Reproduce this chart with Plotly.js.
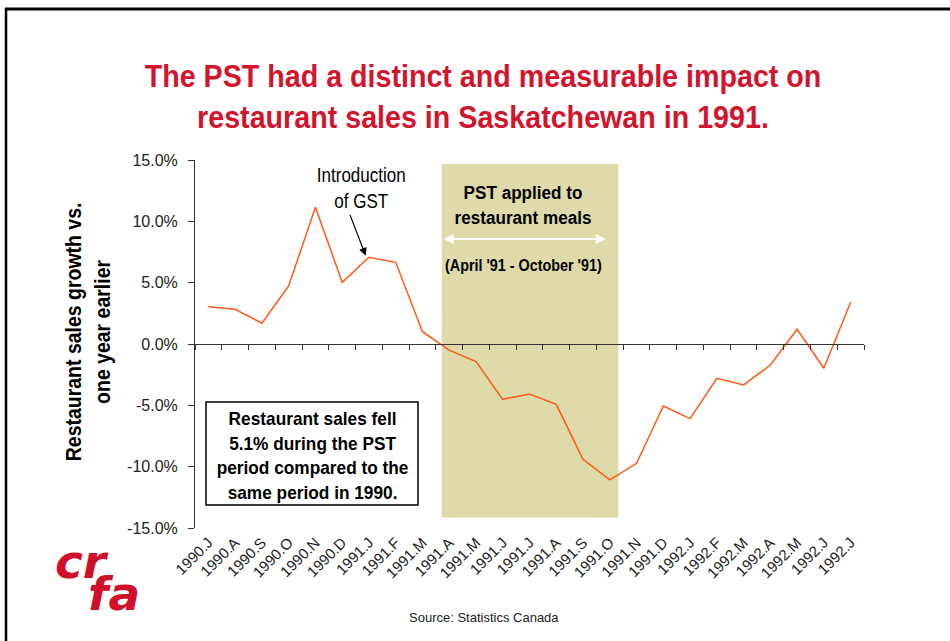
<!DOCTYPE html>
<html>
<head>
<meta charset="utf-8">
<script src="https://cdn.plot.ly/plotly-3.0.1.min.js"></script>
<style>html,body{margin:0;padding:0;background:#fff;}#chart{width:950px;height:641px;}</style>
</head>
<body>
<div id="chart"></div>
<script>
// ---- data ----
var categories = ['1990.J','1990.A','1990.S','1990.O','1990.N','1990.D','1991.J','1991.F','1991.M','1991.A','1991.M','1991.J','1991.J','1991.A','1991.S','1991.O','1991.N','1991.D','1992.J','1992.F','1992.M','1992.A','1992.M','1992.J','1992.J'];
var growthPct = [3.04, 2.83, 1.69, 4.73, 11.14, 5.03, 7.07, 6.66, 1.0, -0.5, -1.44, -4.51, -4.07, -4.92, -9.4, -11.08, -9.73, -5.05, -6.08, -2.80, -3.34, -1.71, 1.19, -1.98, 3.40];
var yTickVals = [-15, -10, -5, 0, 5, 10, 15];
var yTickText = ['-15.0%', '-10.0%', '-5.0%', '0.0%', '5.0%', '10.0%', '15.0%'];

// ---- layout helpers ----
var W = 950, H = 641, ML = 195, MR = 86, MT = 160, MB = 113;
var PW = W - ML - MR, PH = H - MT - MB;
function px(x) { return (x - ML) / PW; }
function py(y) { return (H - MB - y) / PH; }

var ARIAL = 'Liberation Sans, Arial, sans-serif';
var idx = categories.map(function (c, i) { return i; });

var traces = [
  {
    x: idx, y: growthPct, type: 'scatter', mode: 'lines',
    line: { color: '#FF5A14', width: 1.5 }, hoverinfo: 'skip', xaxis: 'x', yaxis: 'y'
  },
  {
    x: [null], y: [null], type: 'scatter', mode: 'lines', xaxis: 'x2', yaxis: 'y',
    hoverinfo: 'skip', showlegend: false
  }
];

// target widths (px) for condensed-looking texts, keyed by annotation index
var narrowTargets = { 0: 137, 1: 157, 3: 89, 5: 192, 6: 259 };
var titleTarget = 677;

var layout = {
  width: W, height: H,
  margin: { l: ML, r: MR, t: MT, b: MB, pad: 0 },
  paper_bgcolor: '#ffffff', plot_bgcolor: 'rgba(0,0,0,0)',
  showlegend: false, hovermode: false,
  title: {
    text: 'The PST had a distinct and measurable impact on<br>restaurant sales in Saskatchewan in 1991.',
    font: { family: ARIAL, size: 31, color: '#D2142D', weight: 'bold' },
    x: 483 / W, xanchor: 'center', xref: 'container',
    y: 1 - 87.5 / H, yanchor: 'middle', yref: 'container'
  },
  xaxis: {
    type: 'linear', range: [-0.5, 24.5],
    tickmode: 'array', tickvals: idx, ticktext: categories,
    tickangle: -45, ticks: '', showline: false, showgrid: false, zeroline: false,
    ticklabelstandoff: 2,
    tickfont: { family: ARIAL, size: 15, color: '#222' }, fixedrange: true
  },
  xaxis2: {
    type: 'linear', range: [-0.5, 24.5], overlaying: 'x',
    anchor: 'free', position: py(344),
    tickmode: 'linear', tick0: -0.5, dtick: 1,
    ticks: 'outside', ticklen: 5, tickcolor: '#333', tickwidth: 1,
    showticklabels: false, showline: true, linecolor: '#333', linewidth: 1,
    showgrid: false, zeroline: false, fixedrange: true
  },
  yaxis: {
    range: [-15, 15], tickmode: 'array', tickvals: yTickVals, ticktext: yTickText,
    ticks: 'outside', ticklen: 6, tickcolor: '#333', ticklabelstandoff: 7,
    showline: true, linecolor: '#333', linewidth: 1,
    showgrid: false, zeroline: false,
    tickfont: { family: ARIAL, size: 16, color: '#222' }, fixedrange: true
  },
  shapes: [
    // PST period band
    { type: 'rect', xref: 'x', yref: 'y', x0: 8.72, x1: 15.32, y0: -14.15, y1: 14.67,
      fillcolor: '#DEDAAA', line: { width: 0 }, layer: 'below' },
    // frame lines
    { type: 'line', xref: 'paper', yref: 'paper', x0: px(5), x1: px(950), y0: py(9), y1: py(9),
      line: { color: '#000', width: 3 } },
    { type: 'line', xref: 'paper', yref: 'paper', x0: px(6), x1: px(6), y0: py(8), y1: py(641),
      line: { color: '#000', width: 2.5 } },
    // text box
    { type: 'rect', xref: 'paper', yref: 'paper', x0: px(206), x1: px(418), y0: py(505), y1: py(402),
      fillcolor: '#ffffff', line: { color: '#000', width: 1.5 } }
  ],
  annotations: [
    { xref: 'paper', yref: 'paper', x: px(523), y: py(205), showarrow: false,
      text: 'PST applied to<br>restaurant meals', xanchor: 'center', yanchor: 'middle',
      font: { family: ARIAL, size: 19, color: '#000', weight: 'bold' } },
    { xref: 'paper', yref: 'paper', x: px(523), y: py(265), showarrow: false,
      text: "(April '91 - October '91)", xanchor: 'center', yanchor: 'middle',
      font: { family: ARIAL, size: 16, color: '#000', weight: 'bold' } },
    { xref: 'x', yref: 'y', x: 14.85, y: 8.56, axref: 'x', ayref: 'y', ax: 8.74, ay: 8.56,
      text: '', showarrow: true, arrowside: 'end+start', arrowhead: 2, startarrowhead: 2,
      arrowsize: 1, startarrowsize: 1, arrowwidth: 2, arrowcolor: '#ffffff', standoff: 0, startstandoff: 0 },
    { xref: 'paper', yref: 'paper', x: px(361), y: py(188), showarrow: false,
      text: 'Introduction<br>of GST', xanchor: 'center', yanchor: 'middle',
      font: { family: ARIAL, size: 20, color: '#000' } },
    { xref: 'x', yref: 'y', x: 5.88, y: 7.2, axref: 'x', ayref: 'y', ax: 5.27, ay: 10.65,
      text: '', showarrow: true, arrowhead: 2, arrowsize: 1.3, arrowwidth: 1.2, arrowcolor: '#000', standoff: 0 },
    { xref: 'paper', yref: 'paper', x: px(312), y: py(455), showarrow: false,
      text: 'Restaurant sales fell<br>5.1% during the PST<br>period compared to the<br>same period in 1990.',
      xanchor: 'center', yanchor: 'middle',
      font: { family: ARIAL, size: 19, color: '#000', weight: 'bold' } },
    { xref: 'paper', yref: 'paper', x: px(88), y: py(332), showarrow: false, textangle: -90,
      text: 'Restaurant sales growth vs.<br>one year earlier', xanchor: 'center', yanchor: 'middle',
      font: { family: ARIAL, size: 22, color: '#000', weight: 'bold' } },
    { xref: 'paper', yref: 'paper', x: px(484), y: py(617), showarrow: false,
      text: 'Source: Statistics Canada', xanchor: 'center', yanchor: 'middle',
      font: { family: ARIAL, size: 13, color: '#222' } },
    { xref: 'paper', yref: 'paper', x: px(82), y: py(561), showarrow: false,
      text: 'cr', xanchor: 'center', yanchor: 'middle',
      font: { family: 'DejaVu Sans, sans-serif', size: 47, color: '#D0102A', weight: 'bold', style: 'italic' } },
    { xref: 'paper', yref: 'paper', x: px(114), y: py(593), showarrow: false,
      text: 'fa', xanchor: 'center', yanchor: 'middle',
      font: { family: 'DejaVu Sans, sans-serif', size: 47, color: '#D0102A', weight: 'bold', style: 'italic' } }
  ]
};

function condense(el, target) {
  if (!el) return;
  var bb = el.getBBox();
  if (!bb.width) return;
  var s = target / bb.width;
  var cx = bb.x + bb.width / 2;
  el.setAttribute('transform', 'translate(' + cx + ',0) scale(' + s + ',1) translate(' + (-cx) + ',0)');
}

Plotly.newPlot('chart', traces, layout, { staticPlot: true, displayModeBar: false }).then(function (gd) {
  condense(gd.querySelector('.g-gtitle text.gtitle'), titleTarget);
  var anns = gd.querySelectorAll('.annotation');
  anns.forEach(function (g) {
    var i = g.getAttribute('data-index');
    if (narrowTargets.hasOwnProperty(i)) {
      condense(g.querySelector('text.annotation-text'), narrowTargets[i]);
    }
  });
});
</script>
</body>
</html>
